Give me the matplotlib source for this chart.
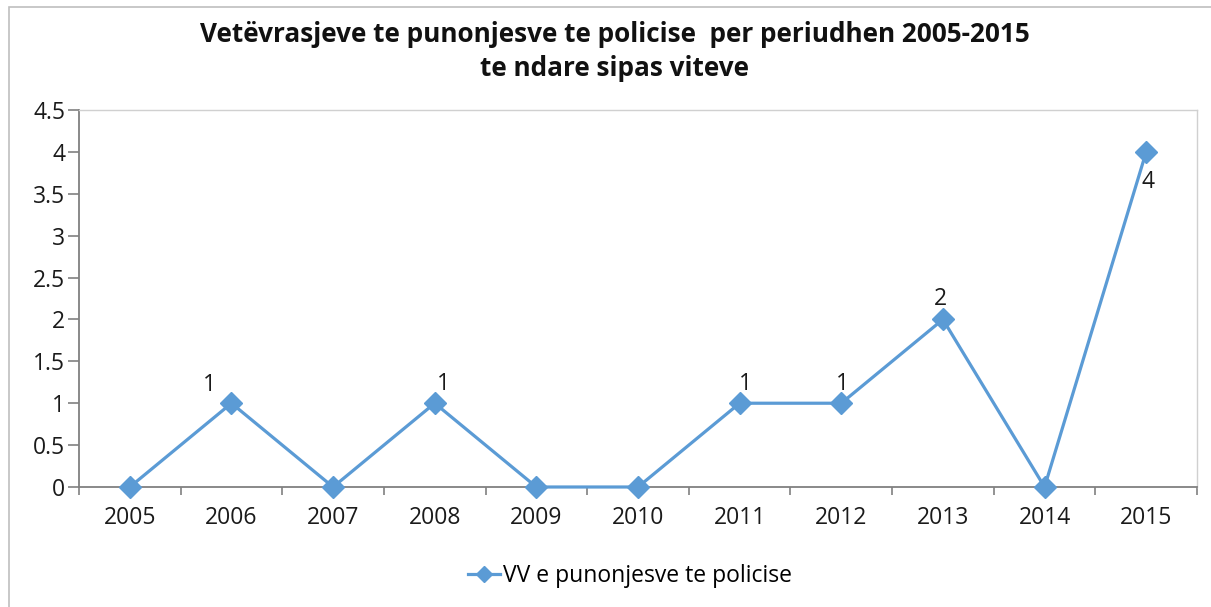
import numpy as np
import matplotlib.pyplot as plt
from matplotlib.patches import Rectangle

years = ["2005", "2006", "2007", "2008", "2009", "2010",
         "2011", "2012", "2013", "2014", "2015"]
values = [0, 1, 0, 1, 0, 0, 1, 1, 2, 0, 4]
series_name = "VV e punonjesve te policise"
title = "Vetëvrasjeve te punonjesve te policise  per periudhen 2005-2015\nte ndare sipas viteve"

# label offsets (points) for the data labels that are shown
label_offsets = {1: (-16, 13), 3: (6, 14), 6: (4, 14), 7: (1, 14), 8: (-2, 15), 10: (1, -22)}

plt.rcParams['font.family'] = ['Open Sans', 'DejaVu Sans']
blue = "#5B9BD5"
txt = "#1a1a1a"

fig = plt.figure(figsize=(12.11, 6.07), dpi=100)
ax = fig.add_axes([79 / 1211, 1 - 487 / 607, (1197 - 79) / 1211, (487 - 110) / 607])

x = np.arange(len(years))
ax.plot(x, values, color=blue, lw=2.3, marker="D", ms=11, label=series_name, clip_on=False, zorder=3)

for i, v in enumerate(values):
    if i in label_offsets:
        ax.annotate(str(v), (x[i], v), xytext=label_offsets[i], textcoords="offset points",
                    ha="center", va="center", fontsize=16.5, color=txt)

ax.set_xlim(-0.5, len(years) - 0.5)
ax.set_ylim(0, 4.5)
ax.set_yticks(np.arange(0, 4.51, 0.5))
ax.set_yticklabels(["0", "0.5", "1", "1.5", "2", "2.5", "3", "3.5", "4", "4.5"])
ax.set_xticks(x)
ax.set_xticklabels(years)
ax.set_xticks(np.arange(-0.5, len(years), 1), minor=True)

ax.tick_params(axis="x", which="major", length=0, pad=14, labelsize=16.5, labelcolor=txt)
ax.tick_params(axis="x", which="minor", length=6, width=1.2, color="#808080", direction="out")
ax.tick_params(axis="y", length=8, width=1.2, color="#808080", labelsize=16.5, labelcolor=txt, pad=2)

for s in ["left", "bottom"]:
    ax.spines[s].set_color("#808080")
    ax.spines[s].set_linewidth(1.3)
for s in ["top", "right"]:
    ax.spines[s].set_color("#D0D0D0")
    ax.spines[s].set_linewidth(1.0)

fig.text(615 / 1211, 1 - 51.5 / 607, title, ha="center", va="center", fontsize=18.8,
         fontweight="bold", linespacing=1.38, color="#111111")

fig.legend(loc="center", bbox_to_anchor=(630 / 1211, 1 - 576 / 607), frameon=False,
           fontsize=16.5, handlelength=1.4, handletextpad=0.1, markerscale=0.75)

# outer chart frame
fig.patches.append(Rectangle((9 / 1211, -0.05), 1.1, 1 - 7 / 607 + 0.05, transform=fig.transFigure,
                             fill=False, edgecolor="#BFBFBF", lw=1.2))

fig.savefig("out.png", dpi=100)
